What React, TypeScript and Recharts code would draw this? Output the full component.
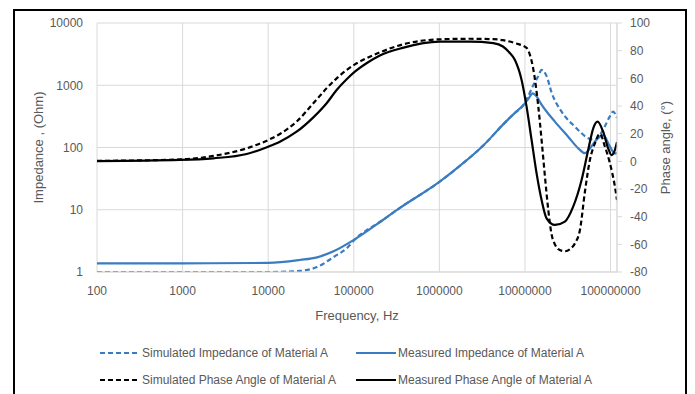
import React from 'react';
import { ComposedChart, Line, XAxis, YAxis, CartesianGrid, Legend, Label } from 'recharts';

// ---- tick labels ----
const freqTicks = [100, 1000, 10000, 100000, 1000000, 10000000, 100000000];
const impedanceTicks = [1, 10, 100, 1000, 10000];
const phaseTicks = [-80, -60, -40, -20, 0, 20, 40, 60, 80, 100];

// ---- Simulated Impedance of Material A (Ohm) ----
const simImpFreq = [100, 10000, 23400, 37200, 58900, 85100, 100000, 219000, 339000, 1000000,
  1790000, 3240000, 5830000, 7640000, 9600000, 11000000, 12500000, 14300000, 15650000, 17900000,
  20500000, 26800000, 38400000, 54800000, 65700000, 75200000, 86000000, 98400000, 107000000, 119000000];
const simImpValues = [1.0, 1.0, 1.04, 1.2, 1.76, 2.5, 3.2, 6.85, 10.5, 28,
  52.5, 107, 251, 360, 480, 680, 1000, 1400, 1760, 1400,
  760, 376, 216, 141, 132, 160, 220, 320, 376, 300];

// ---- Measured Impedance of Material A (Ohm) ----
const measImpFreq = [100, 1000, 10000, 23400, 37200, 58900, 100000, 219000, 339000, 1000000,
  1790000, 3240000, 5830000, 7640000, 9600000, 11000000, 12300000, 13800000, 15300000, 22400000,
  32000000, 42000000, 50100000, 57000000, 65600000, 82200000, 98500000, 112500000, 119000000];
const measImpValues = [1.38, 1.38, 1.4, 1.56, 1.72, 2.17, 3.27, 6.85, 10.5, 28,
  52.5, 107, 251, 360, 480, 610, 742, 650, 513, 260,
  149, 97, 81, 95, 124, 158, 103, 80, 82];

// ---- Simulated Phase Angle of Material A (deg) ----
const simPhaseFreq = [100, 933, 2290, 5610, 10000, 13700, 21500, 33700, 48200, 63100,
  82600, 103000, 141000, 202000, 372000, 1000000, 2290000, 4270000, 5530000, 7820000,
  10450000, 11430000, 12490000, 14300000, 15650000, 17130000, 18720000, 20500000, 22400000, 24500000,
  29300000, 33600000, 38400000, 43900000, 50200000, 57400000, 65700000, 75200000, 86000000, 98400000,
  112500000, 119000000];
const simPhaseValues = [0.3, 1.4, 3.9, 9.4, 15.4, 19.8, 28.7, 42, 52.8, 60,
  66, 70.1, 74.5, 78.8, 84.5, 88.2, 88.6, 88.3, 87.6, 85.3,
  82, 77, 67, 40, 15.4, -11, -35, -53, -60, -63.5,
  -65, -63.5, -59.3, -49.6, -22, 1, 13, 20, 10.6, -1.4,
  -18.3, -28];

// ---- Measured Phase Angle of Material A (deg) ----
const measPhaseFreq = [100, 933, 2290, 5610, 10000, 13700, 21500, 33700, 48200, 63100,
  82600, 103000, 141000, 202000, 372000, 1000000, 2290000, 4270000, 5530000, 6500000,
  7640000, 9140000, 10450000, 11960000, 13680000, 15650000, 17900000, 22400000, 29300000, 36600000,
  45900000, 54800000, 62800000, 70500000, 82000000, 93800000, 102800000, 112400000, 119000000];
const measPhaseValues = [0.2, 1, 2.2, 5.3, 10.6, 14.2, 21.4, 31.8, 42, 51.6,
  59.3, 64.8, 70.9, 76.5, 82, 86.5, 86.5, 85.5, 83, 79,
  73.3, 58.8, 39.5, 15.4, -8.7, -28, -41.2, -46, -43.6, -32.8,
  -13.5, 8.2, 23.9, 28.7, 21.4, 9.4, 4.5, 8.2, 14];

const BLUE = '#3a7cc2';
const BLACK = '#000000';
const TEXT = '#595959';
const GRID = '#d9d9d9';
const FONT = '"Liberation Sans", Arial, sans-serif';

const toPoints = (f: number[], v: number[]) => f.map((x, i) => ({ f: x, v: v[i] }));

const series = [
  { key: 'simImp', name: 'Simulated Impedance of Material A', data: toPoints(simImpFreq, simImpValues), axis: 'imp', color: BLUE, dash: '5 3' },
  { key: 'measImp', name: 'Measured Impedance of Material A', data: toPoints(measImpFreq, measImpValues), axis: 'imp', color: BLUE, dash: undefined },
  { key: 'simPhase', name: 'Simulated Phase Angle of Material A', data: toPoints(simPhaseFreq, simPhaseValues), axis: 'phase', color: BLACK, dash: '5 3' },
  { key: 'measPhase', name: 'Measured Phase Angle of Material A', data: toPoints(measPhaseFreq, measPhaseValues), axis: 'phase', color: BLACK, dash: undefined },
];

const LeftTitle = (props: any) => {
  const vb = props.viewBox || { x: 20, y: 23, width: 77, height: 249 };
  const cx = vb.x + 18;
  const cy = vb.y + vb.height / 2;
  return (
    <text x={cx} y={cy} transform={`rotate(-90, ${cx}, ${cy})`} textAnchor="middle" dominantBaseline="central"
      fontSize={13} fill={TEXT} fontFamily={FONT}>Impedance , (Ohm)</text>
  );
};

const RightTitle = (props: any) => {
  const vb = props.viewBox || { x: 617, y: 23, width: 60, height: 249 };
  const cx = vb.x + 48;
  const cy = vb.y + vb.height / 2;
  return (
    <text x={cx} y={cy} transform={`rotate(-90, ${cx}, ${cy})`} textAnchor="middle" dominantBaseline="central"
      fontSize={13} fill={TEXT} fontFamily={FONT}>Phase angle, (°)</text>
  );
};

const BottomTitle = (props: any) => {
  const vb = props.viewBox || { x: 97, y: 272, width: 520, height: 60 };
  return (
    <text x={vb.x + vb.width / 2} y={vb.y + 43} textAnchor="middle" dominantBaseline="central"
      fontSize={13} fill={TEXT} fontFamily={FONT}>Frequency, Hz</text>
  );
};

const LegendContent = () => {
  const cols = [100, 356];
  const rows = [0, 27];
  return (
    <div style={{ position: 'relative', width: 695, height: 50, fontFamily: FONT, fontSize: 12, color: TEXT }}>
      {series.map((s, i) => (
        <div key={s.key} style={{ position: 'absolute', left: cols[i % 2], top: rows[Math.floor(i / 2)], height: 20, display: 'flex', alignItems: 'center', whiteSpace: 'nowrap' }}>
          <svg width={40} height={20} style={{ display: 'block' }}>
            <line x1={0} y1={10} x2={40} y2={10} stroke={s.color} strokeWidth={2.2} strokeDasharray={s.dash} />
          </svg>
          <span style={{ marginLeft: 2 }}>{s.name}</span>
        </div>
      ))}
    </div>
  );
};

export default function App() {
  return (
    <div style={{ position: 'absolute', left: 0, top: 0, width: 695, height: 394, background: '#fff', overflow: 'hidden' }}>
      <div style={{ position: 'absolute', left: 13, top: 9, width: 670, height: 420, border: '2px solid #000', boxSizing: 'content-box' }} />
      <div style={{ position: 'absolute', left: 0, top: 0 }}>
        <ComposedChart width={695} height={394} margin={{ top: 23, right: 18, bottom: 62, left: 20 }} style={{ fontFamily: FONT }}>
          <CartesianGrid yAxisId="imp" stroke={GRID} strokeWidth={1} />
          <XAxis
            dataKey="f"
            type="number"
            scale="log"
            domain={[100, 119000000]}
            allowDataOverflow
            ticks={freqTicks}
            interval={0}
            height={60}
            tickLine={false}
            tickSize={6}
            tickMargin={8}
            axisLine={{ stroke: GRID }}
            tick={{ fontSize: 12, fill: TEXT }}
            tickFormatter={(v: number) => String(v)}
          >
            <Label content={<BottomTitle />} />
          </XAxis>
          <YAxis
            yAxisId="imp"
            orientation="left"
            type="number"
            scale="log"
            domain={[1, 10000]}
            allowDataOverflow
            ticks={impedanceTicks}
            interval={0}
            width={77}
            axisLine={false}
            tickLine={false}
            tickSize={6}
            tickMargin={8}
            tick={{ fontSize: 12, fill: TEXT }}
          >
            <Label content={<LeftTitle />} />
          </YAxis>
          <YAxis
            yAxisId="phase"
            orientation="right"
            type="number"
            domain={[-80, 100]}
            allowDataOverflow
            ticks={phaseTicks}
            interval={0}
            width={60}
            axisLine={{ stroke: GRID }}
            tickLine={{ stroke: GRID }}
            tickSize={5}
            tickMargin={8}
            tick={{ fontSize: 12, fill: TEXT }}
          >
            <Label content={<RightTitle />} />
          </YAxis>
          {series.map((s) => (
            <Line
              key={s.key}
              data={s.data}
              dataKey="v"
              name={s.name}
              yAxisId={s.axis}
              type="monotone"
              stroke={s.color}
              strokeWidth={2.2}
              strokeDasharray={s.dash}
              dot={false}
              activeDot={false}
              isAnimationActive={false}
            />
          ))}
          <Legend
            verticalAlign="middle"
            align="center"
            layout="horizontal"
            content={<LegendContent />}
            wrapperStyle={{ left: 0, top: 343, width: 695 }}
          />
        </ComposedChart>
      </div>
    </div>
  );
}
